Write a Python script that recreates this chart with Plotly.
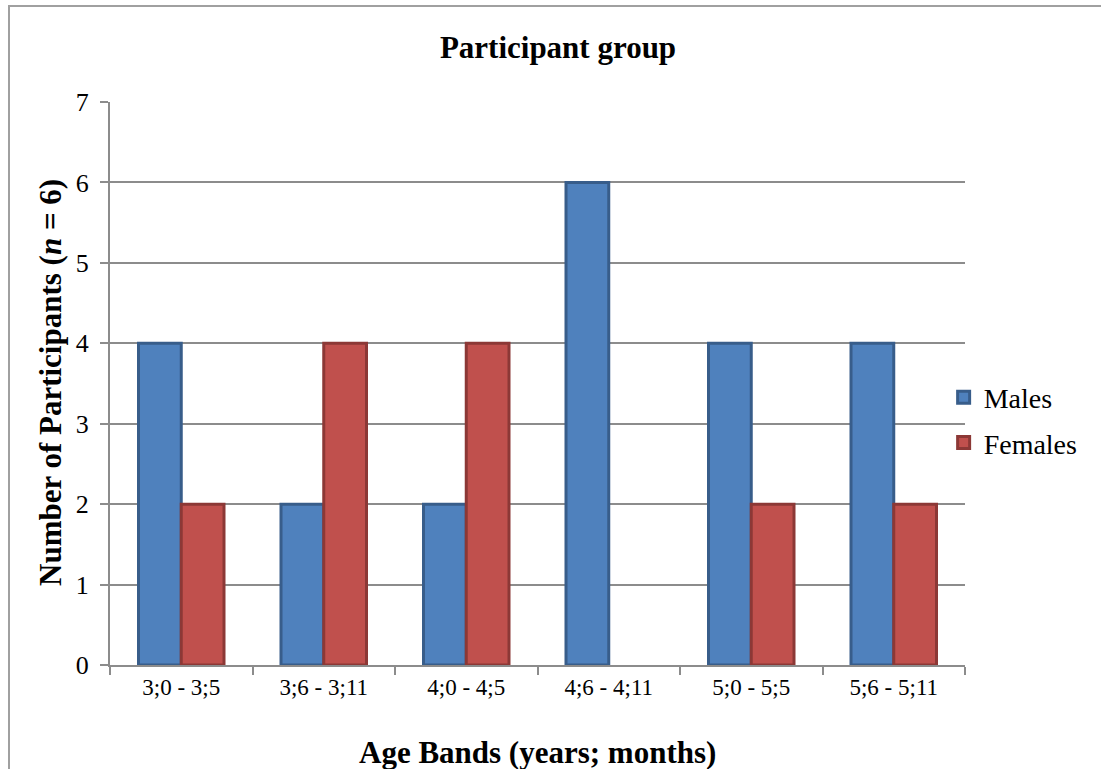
import plotly.graph_objects as go

categories = ["3;0 - 3;5", "3;6 - 3;11", "4;0 - 4;5", "4;6 - 4;11", "5;0 - 5;5", "5;6 - 5;11"]
males = [4, 2, 2, 6, 4, 4]
females = [2, 4, 4, 0, 2, 2]

FONT = "Liberation Serif, Times New Roman, serif"
GRID = "#8c8c8c"

fig = go.Figure()
fig.add_trace(go.Bar(x=categories, y=males, name="Males", legendgroup="m",
                     marker=dict(color="#4F81BD", line=dict(color="#385D8A", width=3))))
fig.add_trace(go.Bar(x=categories, y=females, name="Females", legendgroup="f",
                     marker=dict(color="#C0504D",
                                 line=dict(color="#8C3836",
                                           width=[3 if v > 0 else 0 for v in females]))))

fig.update_layout(
    width=1101, height=769,
    margin=dict(l=110, r=136, t=102, b=104),
    paper_bgcolor="white", plot_bgcolor="white",
    font=dict(family=FONT, color="black", size=24),
    barmode="group", bargap=0.40, bargroupgap=0,
    title=dict(text="<b>Participant group</b>", x=558 / 1101, xanchor="center",
               y=1 - 47 / 769, yanchor="middle", font=dict(size=31, family=FONT)),
    legend=dict(x=0.975, xanchor="left", y=(665 - 420) / 563, yanchor="middle",
                font=dict(size=28, family=FONT), bgcolor="rgba(0,0,0,0)",
                itemwidth=30, tracegroupgap=6),
    showlegend=True,
)
fig.update_xaxes(showline=True, linecolor=GRID, linewidth=2, ticks="outside",
                 tickson="boundaries", ticklen=8, tickcolor=GRID, tickwidth=2,
                 tickfont=dict(size=23, family=FONT), showgrid=False)
fig.update_yaxes(range=[0, 7], dtick=1, showline=True, linecolor=GRID, linewidth=2,
                 ticks="outside", ticklen=8, tickcolor=GRID, tickwidth=2,
                 ticklabelstandoff=6,
                 showgrid=True, gridcolor=GRID, gridwidth=2, zeroline=False,
                 tickfont=dict(size=26, family=FONT))

fig.add_annotation(text="<b>Age Bands (years; months)</b>", xref="paper", yref="paper",
                   x=(537 - 110) / 855, y=(665 - 752) / 563, xanchor="center", yanchor="middle",
                   showarrow=False, font=dict(size=31, family=FONT))
fig.add_annotation(text="<b>Number of Participants (<i>n</i> = 6)</b>", xref="paper", yref="paper",
                   x=(50 - 110) / 855, y=(665 - 383) / 563, xanchor="center", yanchor="middle",
                   textangle=-90, showarrow=False, font=dict(size=31, family=FONT))

fig.add_shape(type="rect", xref="paper", yref="paper",
              x0=(9 - 110) / 855, x1=2.0, y0=-1.0, y1=(665 - 6) / 563,
              line=dict(color="#a0a0a0", width=2), fillcolor="rgba(0,0,0,0)", layer="below")

fig.write_html("out.html", config={"displayModeBar": False},
               post_script="document.body.style.margin='0';document.body.style.overflow='hidden';")
